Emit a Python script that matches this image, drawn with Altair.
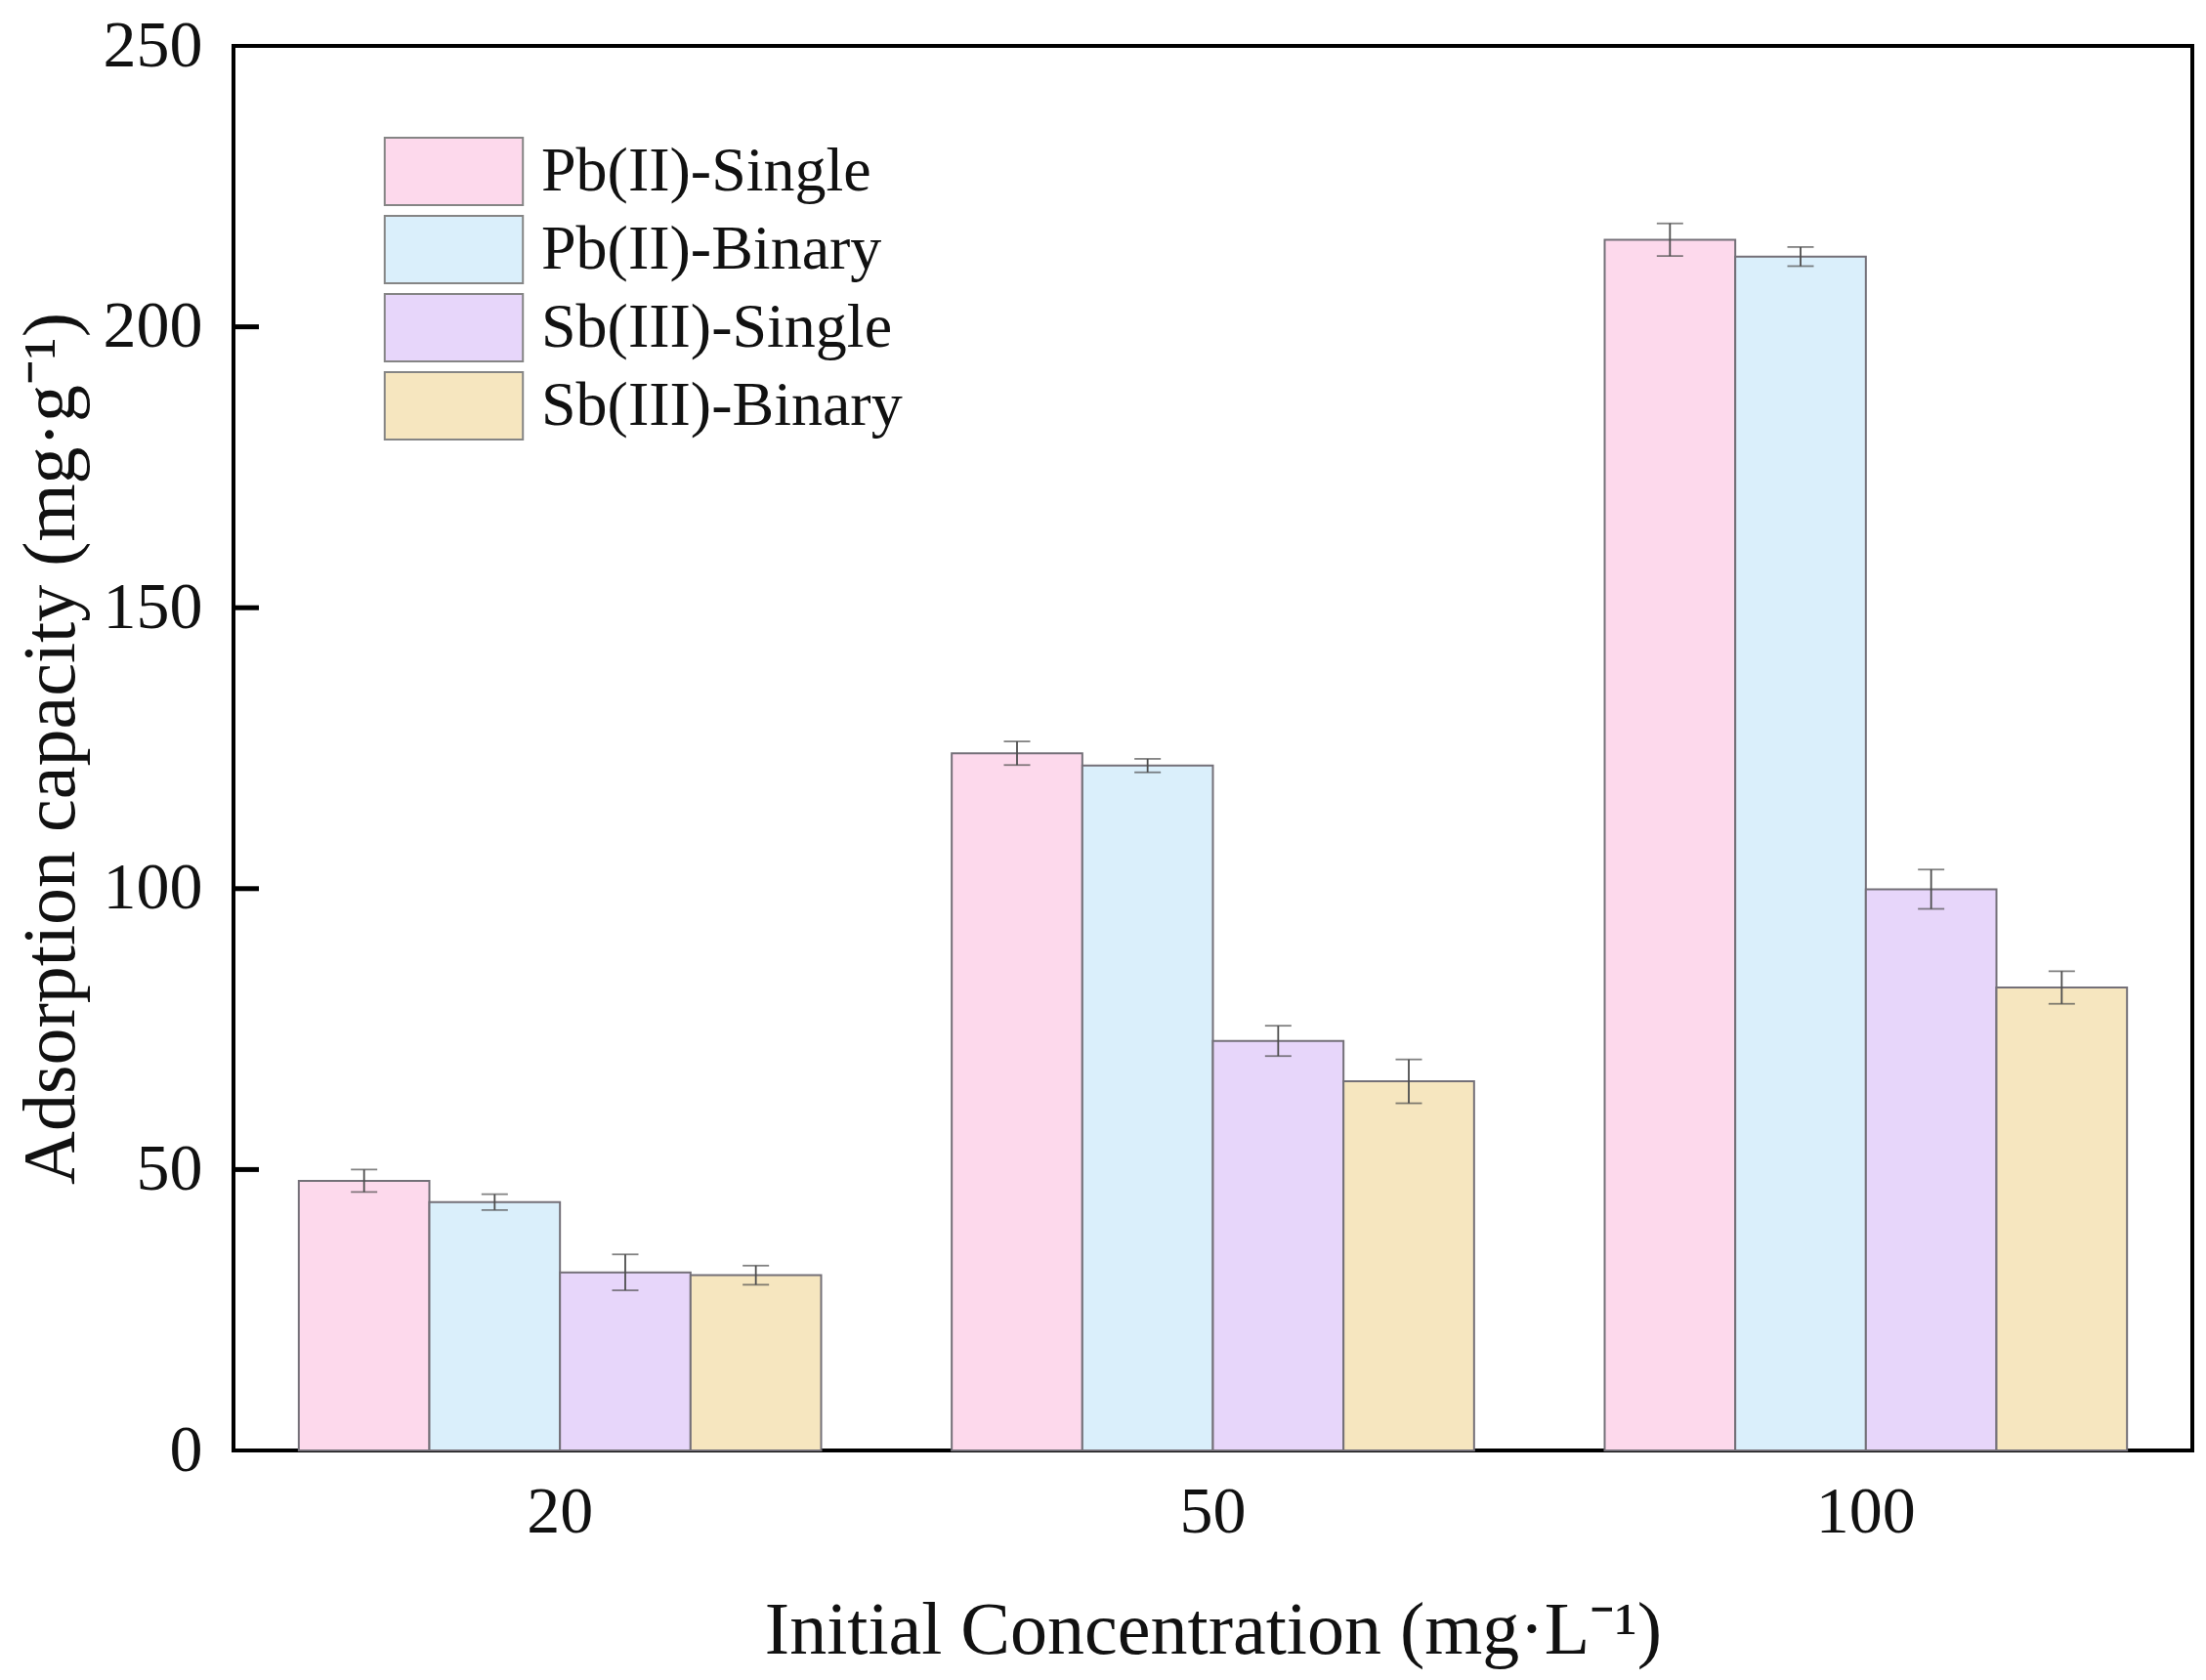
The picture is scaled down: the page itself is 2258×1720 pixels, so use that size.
import altair as alt
import pandas as pd

concentrations = ["20", "50", "100"]
series = ["Pb(II)-Single", "Pb(II)-Binary", "Sb(III)-Single", "Sb(III)-Binary"]
colors = ["#FDD9EC", "#DAEFFB", "#E7D6FA", "#F6E6BF"]

# adsorption capacity per series, in the order of concentrations
pb_single = [48.0, 124.1, 215.5]
pb_binary = [44.2, 121.9, 212.5]
sb_single = [31.7, 72.9, 99.9]
sb_binary = [31.2, 65.7, 82.4]

# error half-widths
pb_single_err = [2.0, 2.1, 2.9]
pb_binary_err = [1.4, 1.2, 1.7]
sb_single_err = [3.2, 2.7, 3.5]
sb_binary_err = [1.7, 3.9, 2.9]

y_ticks = [0, 50, 100, 150, 200, 250]
inner_ticks = [50, 100, 150, 200]

rows = []
for name, vals, errs in zip(series,
                            [pb_single, pb_binary, sb_single, sb_binary],
                            [pb_single_err, pb_binary_err, sb_single_err, sb_binary_err]):
    for c, v, e in zip(concentrations, vals, errs):
        rows.append({"conc": c, "series": name, "value": v, "lo": v - e, "hi": v + e})
df = pd.DataFrame(rows)

FONT = "Liberation Serif"

x_enc = alt.X("conc:N", sort=concentrations,
              title="Initial Concentration (mg·L\u207b\u00b9)",
              scale=alt.Scale(paddingInner=0.2, paddingOuter=0.1),
              axis=alt.Axis(labelAngle=0, ticks=False, domain=False,
                            labelPadding=29, titlePadding=50))
x_off = alt.XOffset("series:N", sort=series,
                    scale=alt.Scale(paddingInner=0, paddingOuter=0))
y_scale = alt.Scale(domain=[0, 250], nice=False)

bars = alt.Chart(df).mark_bar(stroke="#747078", strokeWidth=2).encode(
    x=x_enc,
    xOffset=x_off,
    y=alt.Y("value:Q", scale=y_scale,
            title="Adsorption capacity (mg·g\u207b\u00b9)",
            axis=alt.Axis(values=y_ticks, ticks=False, domain=False, grid=False,
                          labelPadding=32, titlePadding=14)),
    color=alt.Color("series:N", sort=series,
                    scale=alt.Scale(domain=series, range=colors),
                    legend=alt.Legend(
                        title=None, orient="none", legendX=190, legendY=93,
                        symbolType="M-2.05,-1H2.05V1H-2.05Z", symbolSize=4761,
                        symbolStrokeColor="#858585", symbolStrokeWidth=2,
                        symbolOpacity=1, labelOffset=54, rowPadding=3,
                        labelFont=FONT, labelFontSize=64, labelColor="#111",
                        padding=0, labelLimit=0)),
)

# inward tick marks on the left axis
tick_df = pd.DataFrame({"v": inner_ticks})
inner = alt.Chart(tick_df).mark_tick(
    color="#000000", opacity=1, thickness=5, size=26, orient="horizontal"
).encode(
    y=alt.Y("v:Q", scale=y_scale),
    x=alt.value(13),
)

err_rule = alt.Chart(df).mark_rule(color="#4d4d4d", strokeWidth=1.8).encode(
    x=alt.X("conc:N", sort=concentrations),
    xOffset=x_off,
    y=alt.Y("lo:Q", scale=y_scale),
    y2="hi:Q",
)
err_top = alt.Chart(df).mark_tick(color="#4d4d4d", thickness=1.8, size=27).encode(
    x=alt.X("conc:N", sort=concentrations),
    xOffset=x_off,
    y=alt.Y("hi:Q", scale=y_scale),
)
err_bot = alt.Chart(df).mark_tick(color="#4d4d4d", thickness=1.8, size=27).encode(
    x=alt.X("conc:N", sort=concentrations),
    xOffset=x_off,
    y=alt.Y("lo:Q", scale=y_scale),
)

chart = alt.layer(bars, inner, err_rule, err_top, err_bot).properties(
    width=2005, height=1438,
    autosize=alt.AutoSizeParams(type="none"),
    padding={"left": 231, "top": 39, "right": 6, "bottom": 227},
    background="white",
).configure_view(
    stroke="black", strokeWidth=4
).configure_axis(
    labelFont=FONT, titleFont=FONT, labelFontSize=68, titleFontSize=76,
    labelColor="#111", titleColor="#111", titleFontWeight="normal"
)

chart.save("out.html", embed_options={"renderer": "svg", "actions": False})
